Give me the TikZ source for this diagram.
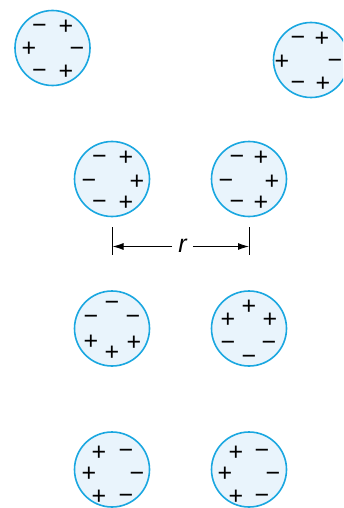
\documentclass[tikz,border=0pt]{standalone}
\usepackage{fontspec}
\setmainfont{Liberation Sans}
\usetikzlibrary{arrows.meta}
\definecolor{ringblue}{HTML}{1AA7E0}
\definecolor{fillblue}{HTML}{E9F4FC}
\tikzset{
  atom/.style={circle,draw=ringblue,fill=fillblue,line width=1.6pt,minimum size=75pt,inner sep=0pt},
  chg/.style={inner sep=0pt,font=\fontsize{25}{25}\selectfont,text height=0.5em,text depth=0pt,yshift=-4pt},
  dimline/.style={line width=0.9pt,black},
  dimarrow/.style={line width=0.9pt,-{Latex[length=11pt,width=7pt]}}
}
\newcommand{\pl}{\raisebox{-0.1em}{+}}
\newcommand{\mi}{\raisebox{-0.1em}{−}}
\begin{document}
\begin{tikzpicture}[x=1pt,y=-1pt]
\useasboundingbox (0,0) rectangle (343,508);
\clip (0,0) rectangle (343,508);
% row 1
\node[atom] (a1) at (52.5,48) {};
\node[chg] (a1tl) at (39.5,25) {\mi};
\node[chg] (a1tr) at (66,26) {\pl};
\node[chg] (a1l) at (29,48) {\pl};
\node[chg] (a1r) at (77,47.5) {\mi};
\node[chg] (a1bl) at (39.5,70) {\mi};
\node[chg] (a1br) at (66,71) {\pl};
\node[atom] (a2) at (311,60) {};
\node[chg] (a2tl) at (298,36.5) {\mi};
\node[chg] (a2tr) at (322,37.5) {\pl};
\node[chg] (a2l) at (282,60.5) {\pl};
\node[chg] (a2r) at (335,59.5) {\mi};
\node[chg] (a2bl) at (298,81.5) {\mi};
\node[chg] (a2br) at (323,82.5) {\pl};
% row 2
\node[atom] (b1) at (112,179) {};
\node[chg] (b1tl) at (99.5,155) {\mi};
\node[chg] (b1tr) at (126,156) {\pl};
\node[chg] (b1l) at (89,179) {\mi};
\node[chg] (b1r) at (137,180) {\pl};
\node[chg] (b1bl) at (99.5,200.5) {\mi};
\node[chg] (b1br) at (126,201.5) {\pl};
\node[atom] (b2) at (249,179) {};
\node[chg] (b2tl) at (237,155) {\mi};
\node[chg] (b2tr) at (261,156) {\pl};
\node[chg] (b2l) at (226,179) {\mi};
\node[chg] (b2r) at (272,180) {\pl};
\node[chg] (b2bl) at (237,200.5) {\mi};
\node[chg] (b2br) at (261,201.5) {\pl};
% dimension r
\coordinate (dL1) at (112.5,227);
\coordinate (dL2) at (112.5,255);
\coordinate (dR1) at (249,227);
\coordinate (dR2) at (249,255);
\coordinate (dLm) at (112.5,246.5);
\coordinate (dRm) at (249,246.5);
\draw[dimline] (dL1) -- (dL2);
\draw[dimline] (dR1) -- (dR2);
\node[inner sep=0pt,font=\fontsize{25}{25}\selectfont\itshape] (rl) at (182.5,246) {r};
\draw[dimarrow] ([xshift=-6pt]rl.west |- dLm) -- (dLm);
\draw[dimarrow] ([xshift=6pt]rl.east |- dRm) -- (dRm);
% row 3
\node[atom] (c1) at (112,328.5) {};
\node[chg] (c1t) at (112,301.5) {\mi};
\node[chg] (c1tl) at (91,315.5) {\mi};
\node[chg] (c1tr) at (133,315.5) {\mi};
\node[chg] (c1bl) at (91,340.5) {\pl};
\node[chg] (c1br) at (134,341) {\pl};
\node[chg] (c1b) at (112,351.5) {\pl};
\node[atom] (c2) at (249,328.5) {};
\node[chg] (c2t) at (249,305.5) {\pl};
\node[chg] (c2tl) at (228,318) {\pl};
\node[chg] (c2tr) at (270,318) {\pl};
\node[chg] (c2bl) at (228,341.5) {\mi};
\node[chg] (c2br) at (269,341.5) {\mi};
\node[chg] (c2b) at (249,355.5) {\mi};
% row 4
\node[atom] (d1) at (112,469.5) {};
\node[chg] (d1tl) at (99,451.5) {\pl};
\node[chg] (d1tr) at (126,449) {\mi};
\node[chg] (d1l) at (89,472.5) {\pl};
\node[chg] (d1r) at (137,472) {\mi};
\node[chg] (d1bl) at (99,495.5) {\pl};
\node[chg] (d1br) at (126,494.5) {\mi};
\node[atom] (d2) at (249,469.5) {};
\node[chg] (d2tl) at (236,451.5) {\pl};
\node[chg] (d2tr) at (262,449) {\mi};
\node[chg] (d2l) at (225,472.5) {\pl};
\node[chg] (d2r) at (273,472) {\mi};
\node[chg] (d2bl) at (236,495.5) {\pl};
\node[chg] (d2br) at (262,494.5) {\mi};
\end{tikzpicture}
\end{document}
